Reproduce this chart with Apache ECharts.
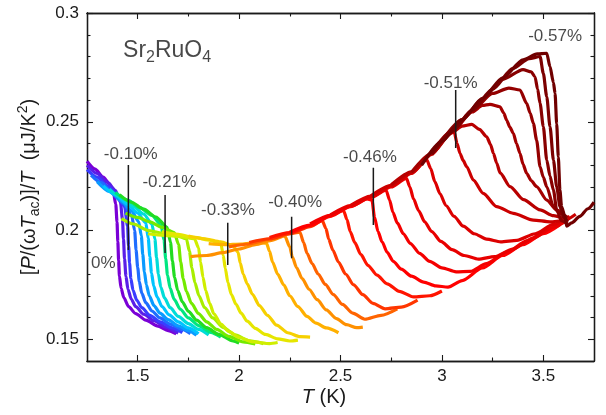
<!DOCTYPE html>
<html><head><meta charset="utf-8">
<script src="https://cdn.jsdelivr.net/npm/echarts@6/dist/echarts.min.js"></script>
<style>html,body{margin:0;padding:0;background:#fff}#c{width:606px;height:415px}</style>
</head><body><div id="c"></div>
<script>
// ---- data: [T (K), P/(wTac)/T (uJ/K^2)] per strain curve ----
const c00 = [[1.25,.2318],[1.29,.2282],[1.33,.2245],[1.36,.2215],[1.38,.2175],[1.392,.2120],[1.398,.2040],[1.402,.1950],[1.406,.1860],[1.410,.1790],[1.418,.1735],[1.432,.1690],[1.455,.1650],[1.49,.1618],[1.54,.1588],[1.60,.1560],[1.65,.1540],[1.69,.1525]];
const c01 = [[1.25,.2300],[1.30,.2262],[1.35,.2222],[1.39,.2185],[1.415,.2130],[1.425,.2050],[1.430,.1960],[1.435,.1870],[1.442,.1790],[1.452,.1730],[1.468,.1685],[1.49,.1650],[1.53,.1615],[1.58,.1585],[1.64,.1555],[1.70,.1528]];
const c02 = [[1.25,.2280],[1.30,.2245],[1.35,.2205],[1.40,.2165],[1.435,.2110],[1.450,.2020],[1.455,.1930],[1.460,.1850],[1.466,.1780],[1.477,.1725],[1.495,.1680],[1.52,.1645],[1.56,.1610],[1.61,.1580],[1.67,.1552],[1.72,.1530]];
const c03 = [[1.27,.2255],[1.32,.2220],[1.38,.2170],[1.43,.2125],[1.47,.2070],[1.485,.2000],[1.492,.1910],[1.500,.1830],[1.508,.1765],[1.520,.1712],[1.54,.1668],[1.57,.1630],[1.61,.1598],[1.66,.1570],[1.72,.1545],[1.76,.1525]];
const c04 = [[1.30,.2225],[1.36,.2180],[1.42,.2135],[1.47,.2090],[1.505,.2040],[1.518,.1975],[1.525,.1890],[1.533,.1810],[1.543,.1750],[1.557,.1700],[1.58,.1655],[1.61,.1620],[1.65,.1590],[1.70,.1562],[1.75,.1540],[1.79,.1518]];
const c05 = [[1.33,.2205],[1.39,.2165],[1.45,.2120],[1.50,.2080],[1.54,.2035],[1.552,.1965],[1.560,.1880],[1.568,.1805],[1.579,.1745],[1.595,.1695],[1.62,.1650],[1.655,.1612],[1.70,.1580],[1.75,.1552],[1.80,.1525]];
const c06 = [[1.36,.2190],[1.42,.2150],[1.48,.2110],[1.53,.2075],[1.57,.2030],[1.585,.1960],[1.593,.1875],[1.602,.1800],[1.614,.1740],[1.632,.1690],[1.66,.1645],[1.70,.1605],[1.75,.1572],[1.80,.1545],[1.85,.1520]];
const c07 = [[1.39,.2175],[1.45,.2140],[1.51,.2105],[1.57,.2070],[1.615,.2025],[1.630,.1955],[1.638,.1870],[1.647,.1795],[1.660,.1735],[1.680,.1683],[1.71,.1638],[1.75,.1598],[1.80,.1563],[1.86,.1532],[1.91,.1510]];
const c08 = [[1.41,.2165],[1.47,.2130],[1.53,.2098],[1.59,.2062],[1.645,.2015],[1.662,.1945],[1.671,.1860],[1.682,.1785],[1.697,.1725],[1.72,.1672],[1.75,.1628],[1.79,.1588],[1.84,.1553],[1.90,.1522],[1.97,.1492],[2.00,.1482]];
const c09 = [[1.44,.2080],[1.50,.2060],[1.56,.2040],[1.62,.2015],[1.68,.1990],[1.702,.1935],[1.712,.1855],[1.724,.1780],[1.740,.1720],[1.765,.1665],[1.80,.1618],[1.84,.1580],[1.89,.1545],[1.95,.1513],[2.02,.1488],[2.08,.1478]];
const c10 = [[1.42,.2055],[1.48,.2030],[1.55,.2000],[1.62,.1988],[1.69,.1978],[1.740,.1962],[1.755,.1905],[1.767,.1830],[1.782,.1760],[1.802,.1700],[1.83,.1645],[1.87,.1598],[1.92,.1555],[1.98,.1520],[2.05,.1493],[2.12,.1480]];
const c11 = [[1.55,.1985],[1.63,.1978],[1.71,.1972],[1.78,.1962],[1.800,.1920],[1.810,.1855],[1.822,.1785],[1.835,.1725],[1.855,.1665],[1.875,.1618],[1.91,.1570],[1.95,.1535],[2.00,.1508],[2.07,.1488],[2.15,.1480],[2.19,.1485]];
const c12 = [[1.62,.1995],[1.70,.1982],[1.78,.1968],[1.86,.1955],[1.910,.1940],[1.922,.1885],[1.932,.1825],[1.945,.1760],[1.962,.1705],[1.985,.1660],[2.01,.1620],[2.04,.1583],[2.08,.1550],[2.13,.1522],[2.19,.1502],[2.25,.1492],[2.29,.1496]];
const c13 = [[1.75,.1975],[1.83,.1962],[1.91,.1948],[1.97,.1930],[1.995,.1900],[2.006,.1850],[2.020,.1800],[2.040,.1755],[2.065,.1708],[2.100,.1655],[2.14,.1610],[2.185,.1565],[2.24,.1530],[2.30,.1512],[2.35,.1510]];
const c14 = [[1.85,.1940],[1.93,.1935],[2.01,.1938],[2.09,.1945],[2.135,.1942],[2.150,.1905],[2.165,.1855],[2.190,.1800],[2.220,.1750],[2.250,.1700],[2.29,.1650],[2.335,.1605],[2.38,.1574],[2.43,.1552],[2.49,.1530]];
const c15 = [[1.76,.1880],[1.84,.1885],[1.92,.1898],[2.00,.1915],[2.08,.1935],[2.16,.1955],[2.225,.1975],[2.250,.1925],[2.262,.1880],[2.283,.1830],[2.310,.1780],[2.345,.1730],[2.385,.1682],[2.43,.1635],[2.48,.1595],[2.53,.1567],[2.58,.1553],[2.61,.1556]];
const c16 = [[1.95,.1925],[2.05,.1938],[2.15,.1960],[2.25,.1985],[2.300,.1992],[2.318,.1945],[2.335,.1895],[2.360,.1848],[2.390,.1800],[2.425,.1752],[2.465,.1705],[2.51,.1660],[2.56,.1620],[2.62,.1592],[2.70,.1610],[2.78,.1640]];
const c17 = [[2.05,.1945],[2.15,.1962],[2.25,.1985],[2.35,.2018],[2.410,.2045],[2.428,.2010],[2.442,.1960],[2.462,.1910],[2.490,.1855],[2.525,.1800],[2.565,.1750],[2.61,.1705],[2.66,.1665],[2.72,.1640],[2.80,.1648],[2.88,.1680]];
const c18 = [[2.15,.1968],[2.25,.1990],[2.35,.2022],[2.45,.2065],[2.515,.2092],[2.532,.2050],[2.548,.1995],[2.570,.1945],[2.600,.1890],[2.635,.1840],[2.68,.1795],[2.73,.1755],[2.79,.1720],[2.86,.1695],[2.94,.1700],[3.00,.1722]];
const c19 = [[2.25,.1992],[2.35,.2025],[2.45,.2068],[2.55,.2110],[2.63,.2145],[2.655,.2140],[2.668,.2060],[2.685,.1995],[2.705,.1948],[2.730,.1900],[2.760,.1858],[2.80,.1822],[2.85,.1790],[2.91,.1763],[2.97,.1745],[3.03,.1740],[3.10,.1770],[3.20,.1828],[3.30,.1885],[3.40,.1935],[3.50,.1985],[3.58,.2025]];
const c20 = [[2.35,.2030],[2.45,.2070],[2.55,.2112],[2.65,.2152],[2.725,.2185],[2.742,.2140],[2.758,.2085],[2.780,.2035],[2.810,.1985],[2.845,.1940],[2.89,.1895],[2.94,.1858],[3.00,.1828],[3.07,.1810],[3.14,.1812],[3.22,.1848],[3.32,.1900],[3.42,.1952],[3.52,.2005],[3.60,.2045]];
const c21 = [[2.45,.2072],[2.55,.2115],[2.65,.2155],[2.75,.2200],[2.825,.2240],[2.842,.2200],[2.860,.2145],[2.885,.2092],[2.915,.2040],[2.950,.1995],[2.995,.1950],[3.05,.1912],[3.11,.1885],[3.18,.1868],[3.26,.1880],[3.35,.1915],[3.45,.1965],[3.55,.2015],[3.62,.2050]];
const c22 = [[2.55,.2115],[2.65,.2158],[2.75,.2205],[2.85,.2262],[2.925,.2325],[2.945,.2285],[2.965,.2225],[2.990,.2170],[3.020,.2115],[3.060,.2065],[3.105,.2020],[3.16,.1985],[3.22,.1960],[3.29,.1948],[3.37,.1955],[3.46,.1985],[3.55,.2028],[3.63,.2065]];
const c23 = [[2.65,.2160],[2.75,.2208],[2.85,.2265],[2.95,.2350],[3.03,.2440],[3.060,.2455],[3.075,.2400],[3.089,.2355],[3.105,.2322],[3.122,.2294],[3.155,.2232],[3.204,.2171],[3.27,.2110],[3.352,.2079],[3.451,.2048],[3.533,.2040],[3.60,.2045],[3.66,.2075]];
const c24 = [[2.75,.2210],[2.85,.2270],[2.95,.2355],[3.05,.2450],[3.10,.2480],[3.147,.2488],[3.185,.2465],[3.221,.2431],[3.240,.2395],[3.254,.2355],[3.270,.2310],[3.287,.2265],[3.336,.2202],[3.402,.2142],[3.484,.2095],[3.55,.2068],[3.60,.2055]];
const c25 = [[2.85,.2268],[2.95,.2355],[3.05,.2455],[3.15,.2545],[3.20,.2575],[3.237,.2580],[3.286,.2569],[3.305,.2540],[3.319,.2508],[3.335,.2475],[3.352,.2447],[3.368,.2400],[3.385,.2355],[3.400,.2305],[3.418,.2263],[3.440,.2230],[3.467,.2202],[3.517,.2140],[3.566,.2094],[3.60,.2075]];
const c26 = [[2.95,.2358],[3.05,.2458],[3.15,.2552],[3.25,.2630],[3.33,.2655],[3.385,.2646],[3.418,.2585],[3.435,.2540],[3.451,.2493],[3.467,.2416],[3.484,.2293],[3.500,.2245],[3.517,.2201],[3.550,.2110],[3.582,.2079],[3.62,.2060]];
const c27 = [[3.00,.2412],[3.10,.2510],[3.20,.2605],[3.30,.2695],[3.40,.2740],[3.440,.2730],[3.459,.2707],[3.472,.2650],[3.484,.2585],[3.500,.2478],[3.517,.2324],[3.533,.2250],[3.550,.2186],[3.566,.2094],[3.59,.2045],[3.62,.2030]];
const c28 = [[2.95,.2350],[3.05,.2455],[3.15,.2555],[3.25,.2650],[3.35,.2745],[3.43,.2790],[3.484,.2800],[3.500,.2723],[3.517,.2615],[3.533,.2478],[3.550,.2324],[3.566,.2201],[3.582,.2110],[3.600,.2060],[3.62,.2040]];
const c29 = [[2.90,.2300],[3.00,.2410],[3.10,.2510],[3.20,.2608],[3.30,.2702],[3.40,.2785],[3.47,.2812],[3.517,.2815],[3.533,.2753],[3.550,.2680],[3.558,.2630],[3.566,.2490],[3.574,.2339],[3.582,.2186],[3.590,.2110],[3.607,.2064],[3.615,.2020],[3.64,.2035],[3.68,.2065],[3.72,.2100],[3.75,.2130]];

const curves = [c00,c01,c02,c03,c04,c05,c06,c07,c08,c09,c10,c11,c12,c13,c14,c15,c16,c17,c18,c19,c20,c21,c22,c23,c24,c25,c26,c27,c28,c29];
const curveColors = ['#7a00d6','#5a1ee8','#3a3cff','#1f6dff','#0a9aff','#00c4ff','#00dcd8','#00e680','#22dc22','#74ea00','#a8ee00','#d0ee00','#e6e600','#f6d000','#ffb000','#ff9000','#ff6400','#ff3600','#ff1400','#ff0000','#f40000','#e80000','#dc0000','#cc0000','#b80000','#a40000','#940000','#880000','#7c0000','#700000'];

// strain labels and their pointer lines
const labelTexts = ['0%','-0.10%','-0.21%','-0.33%','-0.40%','-0.46%','-0.51%','-0.57%'];
const labelT = [1.330,1.466,1.656,1.945,2.276,2.645,3.043,3.558];
const labelV = [0.1849,0.2352,0.2220,0.2092,0.2128,0.2335,0.2677,0.2891];
const pointerT = [1.454,1.635,1.944,2.259,2.662,3.068];
const pointerTop = [0.2301,0.2163,0.2036,0.2063,0.2289,0.2646];
const pointerBottom = [0.1910,0.1897,0.1841,0.1872,0.2025,0.2379];

const xMajor = [1.5,2,2.5,3,3.5];
const xMinor = [1.75,2.25,2.75,3.25];
const yMajor = [0.15,0.2,0.25,0.3];
const yMinor = [0.16,0.17,0.18,0.19,0.21,0.22,0.23,0.24,0.26,0.27,0.28,0.29];

const FONT = "'Liberation Sans', Arial, sans-serif";
const INK = '#1a1a1a';

function xAx(pos, ticks, len, withLabel) {
  const a = {type:'value', min:1.25, max:3.75, position:pos, gridIndex:0,
    axisLine:{show:true, onZero:false, lineStyle:{color:INK, width:1.3}},
    splitLine:{show:false},
    axisTick:{show:true, inside:true, length:len, customValues:ticks, lineStyle:{color:INK, width:1.1}},
    axisLabel:{show:false}};
  if (withLabel) {
    a.axisLabel = {show:true, customValues:ticks, margin:7, fontSize:17, color:INK, fontFamily:FONT};
    a.name = '{i|T} (K)';
    a.nameLocation = 'middle';
    a.nameGap = 26;
    a.nameMoveOverlap = false;
    a.nameTextStyle = {fontSize:20, color:INK, fontFamily:FONT, padding:[0,33,0,0],
      rich:{i:{fontStyle:'italic', fontSize:20, color:INK, fontFamily:FONT}}};
  }
  return a;
}
function yAx(pos, ticks, len, withLabel) {
  const a = {type:'value', min:0.14, max:0.30, position:pos, gridIndex:0,
    axisLine:{show:true, onZero:false, lineStyle:{color:INK, width:1.3}},
    splitLine:{show:false},
    axisTick:{show:true, inside:true, length:len, customValues:ticks, lineStyle:{color:INK, width:1.1}},
    axisLabel:{show:false}};
  if (withLabel) {
    a.axisLabel = {show:true, customValues:ticks, margin:8, fontSize:17, color:INK, fontFamily:FONT};
    a.name = '[{i|P}/(ω{i|T}{sub|ac})]/{i|T}  (μJ/K{sup|2})';
    a.nameLocation = 'middle';
    a.nameGap = 45;
    a.nameMoveOverlap = false;
    a.nameTextStyle = {fontSize:20, color:INK, fontFamily:FONT, lineHeight:26,
      rich:{
        i:{fontStyle:'italic', fontSize:20, color:INK, fontFamily:FONT, lineHeight:26},
        sub:{fontSize:14, color:INK, fontFamily:FONT, verticalAlign:'bottom', lineHeight:14},
        sup:{fontSize:14, color:INK, fontFamily:FONT, verticalAlign:'top', lineHeight:14}
      }};
  }
  return a;
}

const series = [];
curves.forEach((pts, i) => {
  series.push({type:'line', xAxisIndex:0, yAxisIndex:0, data:pts, showSymbol:false,
    smooth:0.25, smoothMonotone:'x', silent:true,
    lineStyle:{color:curveColors[i], width:3.2}, z:2});
});
pointerT.forEach((t, i) => {
  series.push({type:'line', xAxisIndex:0, yAxisIndex:0, data:[[t,pointerTop[i]],[t,pointerBottom[i]]],
    showSymbol:false, silent:true, lineStyle:{color:INK, width:1.5}, z:5});
});
series.push({type:'scatter', xAxisIndex:0, yAxisIndex:0, symbolSize:0, silent:true, z:6,
  data: labelT.map((t,i)=>({value:[t,labelV[i]], name:labelTexts[i]})),
  label:{show:true, position:'inside', formatter:'{b}', fontSize:17, color:INK, fontFamily:FONT}});
series.push({type:'scatter', xAxisIndex:0, yAxisIndex:0, symbolSize:0, silent:true, z:6,
  data:[{value:[1.645,0.2828], name:'Sr2RuO4'}],
  label:{show:true, position:'inside', formatter:'{m|Sr}{s|2}{m|RuO}{s|4}', color:INK,
    rich:{m:{fontSize:23, fontFamily:FONT, color:INK, lineHeight:30},
          s:{fontSize:16, fontFamily:FONT, color:INK, verticalAlign:'bottom', lineHeight:16}}}});

const chart = echarts.init(document.getElementById('c'), null, {renderer:'canvas'});
chart.setOption({
  animation:false,
  backgroundColor:'#fff',
  grid:{left:87, right:12, top:13, bottom:54, containLabel:false},
  xAxis:[xAx('bottom', xMajor, 6, true), xAx('bottom', xMinor, 3.5, false), xAx('top', xMajor, 6, false), xAx('top', xMinor, 3.5, false)],
  yAxis:[yAx('left', yMajor, 6, true), yAx('left', yMinor, 3.5, false), yAx('right', yMajor, 6, false), yAx('right', yMinor, 3.5, false)],
  series: series
});
</script></body></html>
